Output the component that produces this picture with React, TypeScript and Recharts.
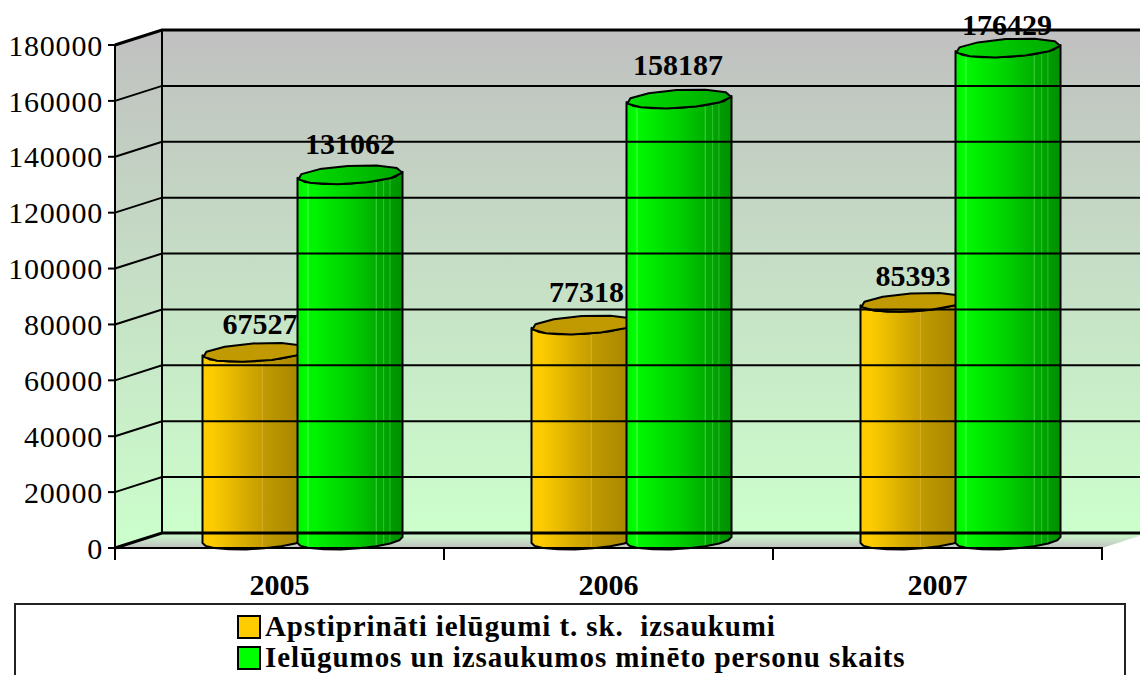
import { BarChart, Bar, XAxis, YAxis, ReferenceArea, ReferenceLine, Legend, LabelList } from "recharts";

const years = ["2005", "2006", "2007"];
const invitations = [67527, 77318, 85393];
const persons = [131062, 158187, 176429];
const yTicks = [0, 20000, 40000, 60000, 80000, 100000, 120000, 140000, 160000, 180000];

const seriesNames = ["Apstiprināti ielūgumi t. sk.  izsaukumi", "Ielūgumos un izsaukumos minēto personu skaits"];

const data = years.map((year, i) => ({ year, invitations: invitations[i], persons: persons[i] }));

const FONT = "'Liberation Serif', 'Times New Roman', serif";
// 3D look: how far the back wall sits from the front plane
const DEPTH_X = 47;
const DEPTH_Y = 15;
const BAR_SHIFT = 22.5;
const BAND = 329;
// the labels were dragged by hand in the original, so each one sits a bit differently
const goldLabelNudge = [[5, -25], [2.5, -30], [0, -23]];
const greenLabelNudge = [[0, -28], [-1, -31], [-1, -20]];

function ellipse(cx: number, cy: number, a: number, from: number, to: number, steps: number) {
  const pts: string[] = [];
  for (let i = 0; i <= steps; i++) {
    const t = from + ((to - from) * i) / steps;
    pts.push(`${(cx + a * Math.cos(t)).toFixed(1)},${(cy + 9 * Math.sin(t) - 3 * Math.cos(t)).toFixed(1)}`);
  }
  return pts;
}

const Cylinder = ({ x, y, width, height, gradient, cap }: any) => {
  const a = width / 2;
  const cx = x + BAR_SHIFT + a;
  const topCy = y - 7;
  const botCy = y + height - 8;
  const lower = ellipse(cx, botCy, a, Math.PI, 0, 9);
  const upper = ellipse(cx, topCy, a, 0, Math.PI, 6);
  const ring = ellipse(cx, topCy, a, 0.1, Math.PI * 2 + 0.1, 11);
  return (
    <g>
      <polygon points={[...lower, ...upper].join(" ")} fill={`url(#${gradient})`} stroke="#000" strokeWidth={2} strokeLinejoin="round" />
      <polygon points={ring.join(" ")} fill={cap} stroke="#000" strokeWidth={2} strokeLinejoin="round" />
    </g>
  );
};

const Walls = ({ x, y, width, height }: any) => (
  <g>
    <polygon
      points={`${x},${y} ${x + DEPTH_X},${y - DEPTH_Y} ${x + DEPTH_X},${y + height - DEPTH_Y} ${x},${y + height}`}
      fill="url(#wallFill)"
    />
    <rect x={x + DEPTH_X} y={y - DEPTH_Y} width={width} height={height} fill="url(#wallFill)" />
    <polygon
      points={`${x},${y + height} ${x + DEPTH_X},${y + height - DEPTH_Y} ${x + width + DEPTH_X},${y + height - DEPTH_Y} ${x + width},${y + height}`}
      fill="url(#floorFill)"
    />
    <line x1={x + DEPTH_X} y1={y - DEPTH_Y} x2={x + DEPTH_X} y2={y + height - DEPTH_Y} stroke="#000" strokeWidth={2} />
  </g>
);

const GridElbow = ({ x1, y1, x2, heavy }: any) => (
  <path
    d={`M${x1},${y1} L${x1 + DEPTH_X},${y1 - DEPTH_Y} L${x2 + DEPTH_X},${y1 - DEPTH_Y}`}
    fill="none"
    stroke="#000"
    strokeWidth={heavy ? 3 : 2}
  />
);

const YearTick = ({ x, y, payload, index }: any) => (
  <g>
    <line x1={x - BAND / 2} y1={y - 9} x2={x - BAND / 2} y2={y + 4} stroke="#000" strokeWidth={2} />
    {index === years.length - 1 && (
      <line x1={x + BAND / 2} y1={y - 9} x2={x + BAND / 2} y2={y + 4} stroke="#000" strokeWidth={2} />
    )}
    <text x={x} y={y + 39} textAnchor="middle" fontFamily={FONT} fontSize={30} fontWeight="bold" fill="#000">
      {payload.value}
    </text>
  </g>
);

const ValueLabel = ({ x, y, width, value, index, nudge }: any) => (
  <text
    x={x + BAR_SHIFT + width / 2 + nudge[index][0]}
    y={y + nudge[index][1]}
    textAnchor="middle"
    fontFamily={FONT}
    fontSize={30}
    fontWeight="bold"
    fill="#000"
  >
    {value}
  </text>
);

const LegendBox = ({ payload }: any) => (
  <div style={{ height: 80, boxSizing: "border-box", border: "2px solid #222", background: "#fff", paddingLeft: 221, paddingTop: 6 }}>
    {(payload || []).map((item: any) => (
      <div key={item.value} style={{ display: "flex", alignItems: "center", height: 31 }}>
        <span style={{ width: 20, height: 20, background: item.color, border: "2px solid #000", marginRight: 4, flex: "none" }} />
        <span
          style={{
            fontFamily: FONT,
            fontSize: 29,
            letterSpacing: 0.93,
            fontWeight: "bold",
            color: "#000",
            whiteSpace: "pre",
            lineHeight: "31px",
          }}
        >
          {item.value}
        </span>
      </div>
    ))}
  </div>
);

export default function App() {
  return (
    <div style={{ position: "absolute", left: 0, top: 0, width: 1140, height: 675, overflow: "hidden", background: "#fff" }}>
      <BarChart
        width={1140}
        height={675}
        data={data}
        margin={{ top: 45, right: 38, left: 0, bottom: 0 }}
        barSize={105}
        barGap={-10}
      >
        <defs>
          <linearGradient id="wallFill" x1="0" y1="0" x2="0" y2="1">
            <stop offset="0%" stopColor="#c0c0c0" />
            <stop offset="100%" stopColor="#ccffcc" />
          </linearGradient>
          <linearGradient id="floorFill" x1="0" y1="0" x2="0" y2="1">
            <stop offset="0%" stopColor="#ccffcc" />
            <stop offset="100%" stopColor="#c0c0c0" />
          </linearGradient>
          <linearGradient id="goldBody" x1="0" y1="0" x2="1" y2="0">
            <stop offset="0%" stopColor="#ffcc00" />
            <stop offset="10%" stopColor="#fccb00" />
            <stop offset="50%" stopColor="#cca300" />
            <stop offset="56%" stopColor="#c69e00" />
            <stop offset="57%" stopColor="#d6b030" />
            <stop offset="58%" stopColor="#c09a00" />
            <stop offset="100%" stopColor="#a38200" />
          </linearGradient>
          <linearGradient id="greenBody" x1="0" y1="0" x2="1" y2="0">
            <stop offset="0%" stopColor="#00f000" />
            <stop offset="9%" stopColor="#00ff00" />
            <stop offset="10%" stopColor="#50ff50" />
            <stop offset="11%" stopColor="#00f800" />
            <stop offset="50%" stopColor="#00d000" />
            <stop offset="74%" stopColor="#00b000" />
            <stop offset="75%" stopColor="#40d040" />
            <stop offset="76%" stopColor="#00aa00" />
            <stop offset="81%" stopColor="#00a800" />
            <stop offset="82%" stopColor="#30c030" />
            <stop offset="83%" stopColor="#00a400" />
            <stop offset="87%" stopColor="#00a000" />
            <stop offset="88%" stopColor="#30b830" />
            <stop offset="89%" stopColor="#009c00" />
            <stop offset="100%" stopColor="#009000" />
          </linearGradient>
          <linearGradient id="greenCap" x1="0" y1="0" x2="1" y2="0">
            <stop offset="0%" stopColor="#00e000" />
            <stop offset="100%" stopColor="#00a800" />
          </linearGradient>
        </defs>
        <ReferenceArea y1={0} y2={180000} ifOverflow="visible" shape={<Walls />} fill="none" stroke="none" />
        {yTicks.map((tick) => (
          <ReferenceLine key={tick} y={tick} ifOverflow="visible" shape={<GridElbow heavy={tick === 0 || tick === 180000} />} />
        ))}
        <XAxis
          dataKey="year"
          height={127}
          stroke="#000"
          strokeWidth={2}
          tickLine={false}
          tick={<YearTick />}
          interval={0}
        />
        <YAxis
          width={115}
          domain={[0, 180000]}
          ticks={yTicks}
          interval={0}
          stroke="#000"
          strokeWidth={2}
          tickSize={7}
          tickMargin={5}
          tick={{ fontFamily: FONT, fontSize: 30, letterSpacing: 0.8, fill: "#000" }}
        />
        <Legend
          layout="horizontal"
          verticalAlign="middle"
          align="center"
          content={<LegendBox />}
          wrapperStyle={{ left: 14, top: 603, width: 1112, height: 80 }}
        />
        <Bar
          dataKey="invitations"
          name={seriesNames[0]}
          fill="#ffcc00"
          isAnimationActive={false}
          shape={<Cylinder gradient="goldBody" cap="#c09a00" />}
        >
          <LabelList dataKey="invitations" content={<ValueLabel nudge={goldLabelNudge} />} />
        </Bar>
        <Bar
          dataKey="persons"
          name={seriesNames[1]}
          fill="#00ff00"
          isAnimationActive={false}
          shape={<Cylinder gradient="greenBody" cap="url(#greenCap)" />}
        >
          <LabelList dataKey="persons" content={<ValueLabel nudge={greenLabelNudge} />} />
        </Bar>
      </BarChart>
    </div>
  );
}
